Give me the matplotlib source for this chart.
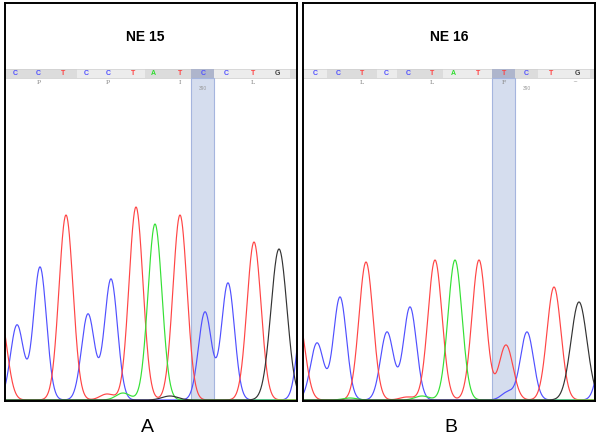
import numpy as np
import matplotlib
matplotlib.use("Agg")
import matplotlib.pyplot as plt

plt.rcParams['font.family'] = ['Liberation Sans', 'DejaVu Sans']

# everything is in image pixels (x from the left, y from the bottom of the panel)
titles = ["NE 15", "NE 16"]
title_x = [145, 449]
panel_labels = ["A", "B"]
panel_label_x = [147, 451]
xlims = [(5, 297), (303, 595)]

bases = ["CCTCCTATCCTG", "CCTCCTATTCTG"]
base_x = [[15, 38, 63, 86, 108, 133, 153, 180, 203, 226, 253, 277],
          [315, 338, 362, 386, 408, 432, 453, 478, 504, 526, 551, 577]]
aa_labels = [["P", "P", "I", "L"], ["L", "L", "F", "~"]]
aa_x = [[39, 108, 180, 253], [362, 432, 504, 575]]
pos_label = ["390", "390"]
pos_label_x = [203, 527]
highlight = [(191, 214), (492, 515)]

# codon shading in the base strip: (start, end, dark?)
strip_left = [(5, 77, 1), (77, 145, 0), (145, 191, 1), (214, 290, 0), (290, 297, 1)]
strip_right = [(303, 327, 0), (327, 377, 1), (377, 397, 0), (397, 443, 1), (443, 492, 0),
               (515, 538, 1), (538, 590, 0), (590, 595, 1)]
strips = [strip_left, strip_right]

# trace peaks: position and height (px)
blue_x = [[17, 40, 88, 111, 205, 228, 305], [317, 340, 387, 410, 508, 527, 605]]
blue_h = [[75, 133, 86, 121, 88, 117, 110], [57, 103, 68, 93, 8, 68, 65]]
red_x = [[0, 66, 107, 136, 180, 254], [298, 366, 407, 435, 479, 506, 554]]
red_h = [[85, 185, 6, 193, 185, 158], [84, 138, 3, 140, 140, 55, 113]]
green_x = [[123, 155], [350, 422, 455]]
green_h = [[7, 176], [2, 4, 140]]
black_x = [[170, 279], [579]]
black_h = [[4, 151], [98]]

base_colors = {"C": "#5050ff", "T": "#ff4040", "A": "#30dd30", "G": "#404040"}
channels = [("blue", "#5050ff", 6.5), ("red", "#ff4545", 7.0),
            ("green", "#35e035", 7.0), ("black", "#333333", 8.0)]


def trace(x, centers, heights, sigma):
    y = np.zeros_like(x) + 1
    for c, h in zip(centers, heights):
        y += h * np.exp(-(x - c) ** 2 / (2 * sigma ** 2))
    return y


fig = plt.figure(figsize=(6, 4.38), dpi=100)

for i in range(2):
    x0, x1 = xlims[i]
    ax = fig.add_axes([x0 / 600, 37 / 438, (x1 - x0) / 600, 398 / 438])
    ax.set_xlim(x0, x1)
    ax.set_ylim(0, 398)
    ax.set_xticks([])
    ax.set_yticks([])
    for s in ax.spines.values():
        s.set_linewidth(1.4)

    ax.text(title_x[i], 364, titles[i], ha='center', va='center',
            fontsize=10, fontweight='bold')

    # base strip
    for a, b, dark in strips[i]:
        ax.axvspan(a, b, ymin=323 / 398, ymax=332 / 398,
                   color="#dcdcdc" if dark else "#ececec", lw=0, zorder=0)
    ax.axhline(323, color="#c8c8c8", lw=0.5, zorder=0)
    ax.axhline(332, color="#d0d0d0", lw=0.5, zorder=0)

    # highlighted column
    h0, h1 = highlight[i]
    ax.axvspan(h0, h1, ymin=0, ymax=323 / 398, facecolor="#d5ddee",
               edgecolor="#a5b5de", lw=0.8, zorder=0)
    ax.axvspan(h0, h1, ymin=323 / 398, ymax=332 / 398, color="#aeb5cc", lw=0, zorder=0)

    for b, bx in zip(bases[i], base_x[i]):
        ax.text(bx, 327.5, b, ha='center', va='center', fontsize=5,
                fontweight='bold', color=base_colors[b])
    for a, axx in zip(aa_labels[i], aa_x[i]):
        ax.text(axx, 319, a, ha='center', va='center', fontsize=4.5,
                color="#888888", family='DejaVu Serif')
    ax.text(pos_label_x[i], 313, pos_label[i], ha='center', va='center',
            fontsize=3.5, color="#999999")

    xs = np.linspace(x0, x1, 800)
    peaks = {"blue": (blue_x[i], blue_h[i]), "red": (red_x[i], red_h[i]),
             "green": (green_x[i], green_h[i]), "black": (black_x[i], black_h[i])}
    for name, col, sig in channels:
        cx, ch = peaks[name]
        ax.plot(xs, trace(xs, cx, ch, sig), color=col, lw=0.85, zorder=2)

    fig.text(panel_label_x[i] / 600, 1 - 427 / 438, panel_labels[i],
             ha='center', va='center', fontsize=14)

fig.savefig("out.png", dpi=100)
